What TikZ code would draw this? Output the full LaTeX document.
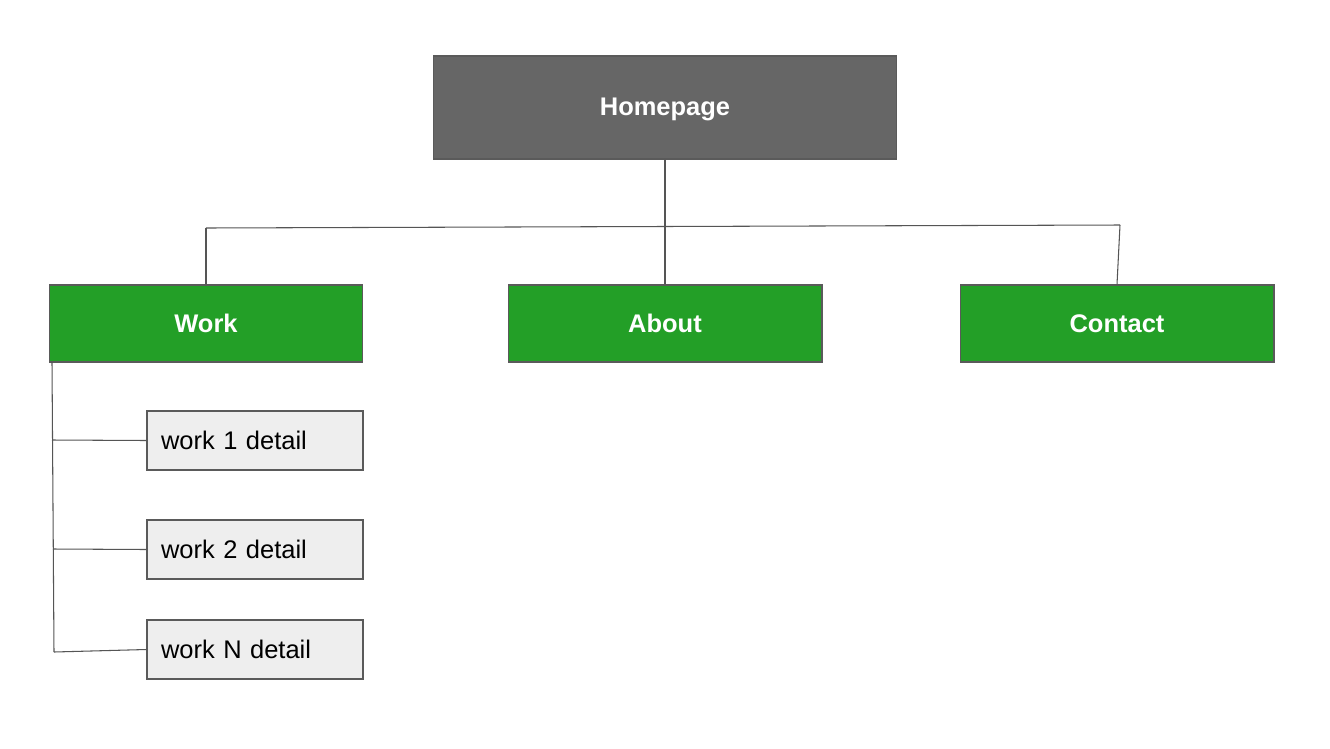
\documentclass[tikz,border=0pt]{standalone}
\usepackage{fontspec}
\setmainfont{Liberation Sans}
\definecolor{homegray}{HTML}{666666}
\definecolor{boxgreen}{HTML}{239F27}
\definecolor{detailfill}{HTML}{EEEEEE}
\definecolor{edgegray}{HTML}{5A5A5A}
\definecolor{linegray}{HTML}{555555}
\tikzset{
  basebox/.style={draw=edgegray, line width=0.6pt, inner sep=0pt, font=\fontsize{14.5}{17}\selectfont},
  homebox/.style={basebox, fill=homegray, text=white, font=\fontsize{14.5}{17}\selectfont\bfseries, minimum width=9.28cm, minimum height=2.06cm, text height=9.6pt, text depth=0pt},
  pagebox/.style={basebox, fill=boxgreen, text=white, font=\fontsize{14.5}{17}\selectfont\bfseries, minimum width=6.28cm, minimum height=1.54cm},
  detailbox/.style={basebox, fill=detailfill, text=black, minimum width=4.32cm, minimum height=1.18cm, text width=3.76cm, inner xsep=0.28cm, align=left},
  link/.style={draw=linegray, line width=0.6pt}
}
\begin{document}
\begin{tikzpicture}[x=0.02cm, y=-0.02cm]
\useasboundingbox[fill=white] (0,0) rectangle (1330,748);
\node[homebox] (home) at (665,107.5) {Homepage};
\node[pagebox] (work) at (206,323.5) {Work};
\node[pagebox] (about) at (665,323.5) {About};
\node[pagebox] (contact) at (1117,323.5) {Contact};
\node[detailbox] (d1) at (255,440.5) {work 1 detail};
\node[detailbox] (d2) at (255,549.5) {work 2 detail};
\node[detailbox] (dN) at (255,649.5) {work N detail};
\coordinate (hl) at (206,228);
\coordinate (hr) at (1120,225);
\coordinate (wt) at (52,362);
\coordinate (j1) at (52,440);
\coordinate (j2) at (53,549);
\coordinate (j3) at (54,652);
\draw[link] (home.south) -- (about.north);
\draw[link] (hl) -- (hr);
\draw[link] (hl) -- (work.north);
\draw[link] (hr) -- (contact.north);
\draw[link] (wt) -- (j3);
\draw[link] (j1) -- (d1.west);
\draw[link] (j2) -- (d2.west);
\draw[link] (j3) -- (dN.west);
\end{tikzpicture}
\end{document}
